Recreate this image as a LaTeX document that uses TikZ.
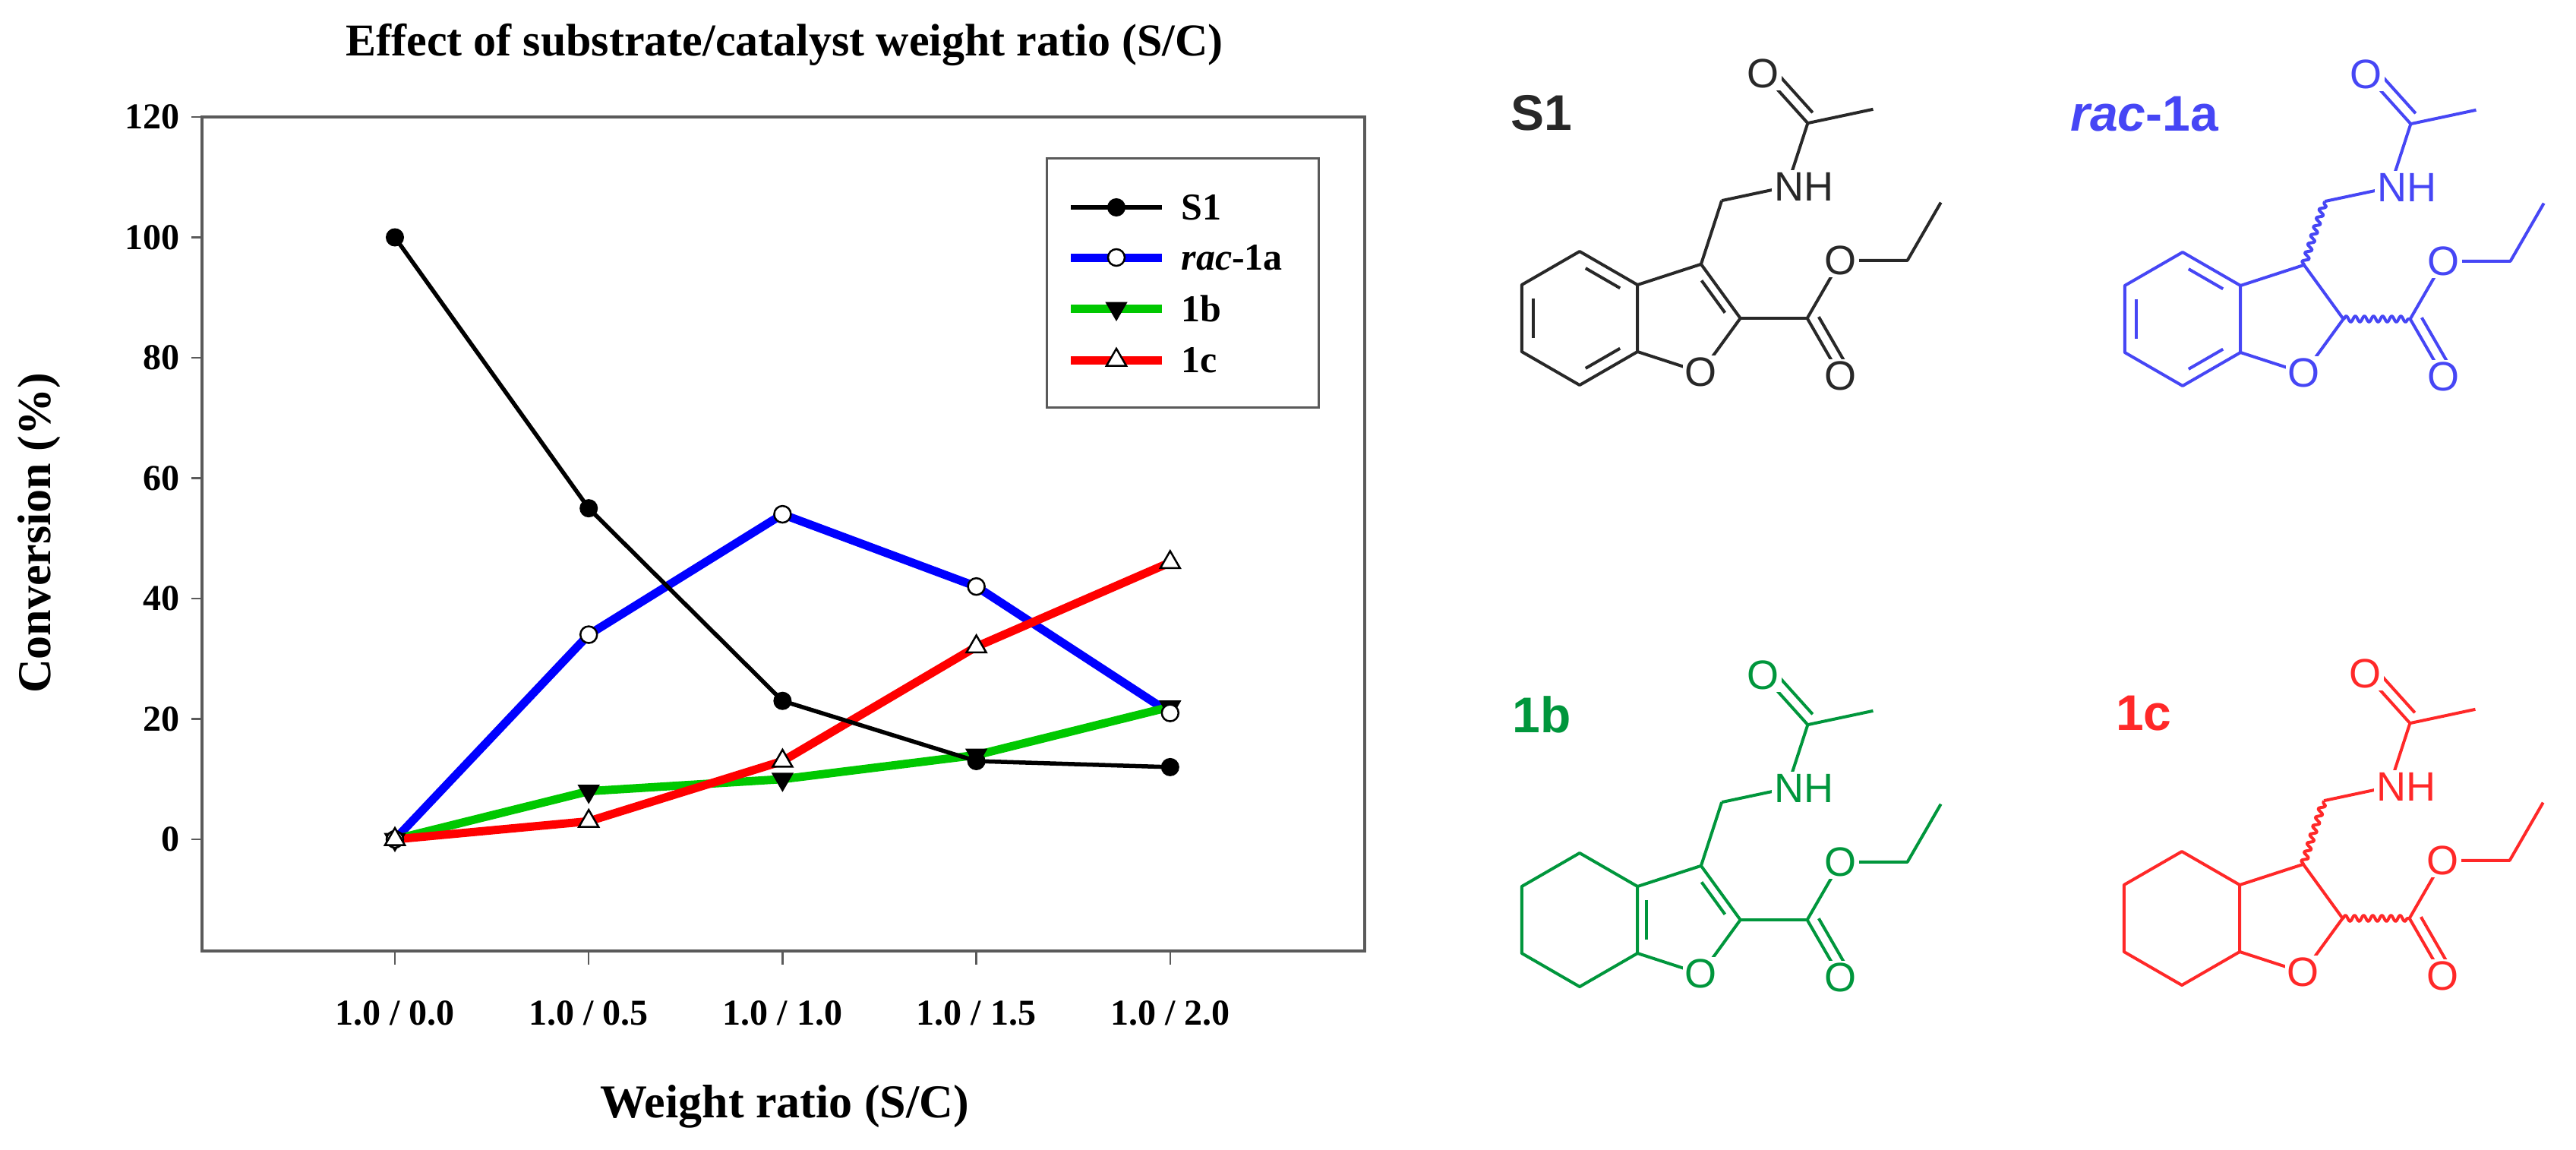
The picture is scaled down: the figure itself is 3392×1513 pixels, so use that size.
\documentclass[tikz,border=0pt]{standalone}
\usepackage{fontspec}
\setmainfont{Liberation Serif}
\newfontfamily\chemfont{Liberation Sans}
\usetikzlibrary{calc,shapes.geometric,decorations.pathmorphing}
\definecolor{axgray}{RGB}{90,90,90}
\definecolor{molblack}{RGB}{40,40,40}
\definecolor{molblue}{RGB}{70,70,245}
\definecolor{molgreen}{RGB}{0,150,60}
\definecolor{molred}{RGB}{255,40,40}
\definecolor{plotgreen}{RGB}{0,200,0}
\tikzset{
  axisline/.style={draw=axgray,line width=4pt},
  ticklab/.style={font=\bfseries\fontsize{48}{48}\selectfont},
  biglab/.style={font=\bfseries\fontsize{62}{62}\selectfont},
  legtext/.style={font=\bfseries\fontsize{50}{50}\selectfont,anchor=west},
  mfull/.style={circle,draw=black,fill=black,minimum size=22pt,inner sep=0pt,line width=2pt},
  mopen/.style={circle,draw=black,fill=white,minimum size=22pt,inner sep=0pt,line width=2.5pt},
  mtridown/.style={regular polygon,regular polygon sides=3,shape border rotate=180,draw=black,fill=black,minimum size=30pt,inner sep=0pt,line width=2pt},
  mtriup/.style={regular polygon,regular polygon sides=3,draw=black,fill=white,minimum size=30pt,inner sep=0pt,line width=2.5pt},
  atom/.style={font=\chemfont\fontsize{54}{54}\selectfont,fill=white,inner sep=3pt},
  cpdlab/.style={font=\chemfont\bfseries\fontsize{66}{66}\selectfont},
  wavy/.style={decorate,decoration={snake,amplitude=4pt,segment length=12pt}}
}
\newcommand\innerbond[3]{\draw[shorten <=9pt,shorten >=9pt] ($(#3)!0.8!(#1)$) -- ($(#3)!0.8!(#2)$);}
% #1 prefix, #2 x, #3 y, #4 colour, #5 label, #6 type (1 S1, 2 rac, 3 1b, 4 1c)
\newcommand\molec[6]{%
\begin{scope}[shift={(#2,#3)},x=88pt,y=88pt,draw=#4,text=#4,line width=4pt,line join=round]
\coordinate (#1B) at (0,0);
\coordinate (#1v1) at (0,1);
\coordinate (#1v2) at (0.866,0.5);
\coordinate (#1v3) at (0.866,-0.5);
\coordinate (#1v4) at (0,-1);
\coordinate (#1v5) at (-0.866,-0.5);
\coordinate (#1v6) at (-0.866,0.5);
\coordinate (#1P) at (1.554,0);
\coordinate (#1c3) at (1.817,0.809);
\coordinate (#1c2) at (2.405,0);
\coordinate (#1o1) at (1.817,-0.809);
\coordinate (#1ch) at (2.126,1.760);
\coordinate (#1n) at (3.104,1.968);
\coordinate (#1cam) at (3.413,2.919);
\coordinate (#1oam) at (2.744,3.662);
\coordinate (#1me) at (4.391,3.127);
\coordinate (#1ce) at (3.405,0);
\coordinate (#1od) at (3.905,-0.866);
\coordinate (#1oe) at (3.905,0.866);
\coordinate (#1et1) at (4.905,0.866);
\coordinate (#1et2) at (5.405,1.732);
\draw (#1v1)--(#1v2)--(#1v3)--(#1v4)--(#1v5)--(#1v6)--cycle;
\draw (#1v2)--(#1c3)--(#1c2)--(#1o1)--(#1v3);
\ifcase#6\or
  \innerbond{#1v1}{#1v2}{#1B}\innerbond{#1v5}{#1v6}{#1B}\innerbond{#1v3}{#1v4}{#1B}
  \innerbond{#1c3}{#1c2}{#1P}
  \draw (#1c3)--(#1ch); \draw (#1c2)--(#1ce);
\or
  \innerbond{#1v1}{#1v2}{#1B}\innerbond{#1v5}{#1v6}{#1B}\innerbond{#1v3}{#1v4}{#1B}
  \draw[wavy] (#1c3)--(#1ch); \draw[wavy] (#1c2)--(#1ce);
\or
  \innerbond{#1v2}{#1v3}{#1P}\innerbond{#1c3}{#1c2}{#1P}
  \draw (#1c3)--(#1ch); \draw (#1c2)--(#1ce);
\or
  \draw[wavy] (#1c3)--(#1ch); \draw[wavy] (#1c2)--(#1ce);
\fi
\draw (#1ch)--(#1n)--(#1cam)--(#1me);
\draw (#1cam)--(#1oam);
\draw[shorten <=6pt] ($(#1cam)!0.16!-90:(#1oam)$) -- ($(#1oam)!0.16!90:(#1cam)$);
\draw (#1ce)--(#1od);
\draw[shorten <=6pt] ($(#1ce)!0.16!90:(#1od)$) -- ($(#1od)!0.16!-90:(#1ce)$);
\draw (#1ce)--(#1oe)--(#1et1)--(#1et2);
\node[atom] (#1Olab) at (#1o1) {O};
\node[atom] (#1OAlab) at (#1oam) {O};
\node[atom] (#1ODlab) at (#1od) {O};
\node[atom] (#1OElab) at (#1oe) {O};
\node[atom,anchor=west,xshift=-22pt] (#1NHlab) at (#1n) {NH};
\node[cpdlab] (#1name) at (-0.57,3.07) {#5};
\end{scope}}
\begin{document}
\begin{tikzpicture}[x=1pt,y=-1pt]
\useasboundingbox[fill=white] (0,0) rectangle (3392,1513);
% ---------- plot ----------
\node[font=\bfseries\fontsize{60}{60}\selectfont] (title) at (1033,59) {Effect of substrate/catalyst weight ratio (S/C)};
\draw[axisline] (266,154) rectangle (1797,1252);
\foreach \v in {0,20,...,120}{
  \draw[axisline,line width=2.5pt] (252,{1105-7.925*\v}) -- (266,{1105-7.925*\v});
  \node[ticklab,anchor=east] (yt\v) at (240,{1105-7.925*\v}) {\v};
}
\foreach \i/\t in {0/{1.0 / 0.0},1/{1.0 / 0.5},2/{1.0 / 1.0},3/{1.0 / 1.5},4/{1.0 / 2.0}}{
  \draw[axisline,line width=2.5pt] ({520+255.2*\i},1252) -- ({520+255.2*\i},1270);
  \node[ticklab] (xt\i) at ({520+255.2*\i},1334) {\t};
}
\node[biglab] (xlab) at (1033,1457) {Weight ratio (S/C)};
\node[biglab,rotate=90] (ylab) at (52,702) {Conversion (\%)};
% data coordinates
\foreach \s/\a/\b/\c/\d/\e in {S/100/55/23/13/12,R/0/34/54/42/21,G/0/8/10/14/22,C/0/3/13/32/46}{
  \coordinate (\s0) at (520,{1105-7.925*\a});
  \coordinate (\s1) at (775.2,{1105-7.925*\b});
  \coordinate (\s2) at (1030.4,{1105-7.925*\c});
  \coordinate (\s3) at (1285.6,{1105-7.925*\d});
  \coordinate (\s4) at (1540.8,{1105-7.925*\e});
}
\draw[blue,line width=11pt,line join=round] (R0)--(R1)--(R2)--(R3)--(R4);
\draw[plotgreen,line width=11pt,line join=round] (G0)--(G1)--(G2)--(G3)--(G4);
\draw[red,line width=11pt,line join=round] (C0)--(C1)--(C2)--(C3)--(C4);
\draw[black,line width=5.5pt,line join=round] (S0)--(S1)--(S2)--(S3)--(S4);
\foreach \k in {0,...,4}{
  \node[mtridown] at (G\k) {};
  \node[mopen] at (R\k) {};
  \node[mtriup] at (C\k) {};
  \node[mfull] at (S\k) {};
}
% legend
\draw[draw=axgray,line width=3pt] (1378,208) rectangle (1736,536);
\coordinate (lS) at (1470,273); \coordinate (lR) at (1470,339);
\coordinate (lG) at (1470,406); \coordinate (lC) at (1470,474);
\draw[black,line width=5.5pt] ($(lS)+(-60,0)$) -- ($(lS)+(60,0)$);
\draw[blue,line width=11pt] ($(lR)+(-60,0)$) -- ($(lR)+(60,0)$);
\draw[plotgreen,line width=11pt] ($(lG)+(-60,0)$) -- ($(lG)+(60,0)$);
\draw[red,line width=11pt] ($(lC)+(-60,0)$) -- ($(lC)+(60,0)$);
\node[mfull] at (lS) {}; \node[mopen] at (lR) {};
\node[mtridown] at (lG) {}; \node[mtriup] at (lC) {};
\node[legtext] (tS) at (1552,273) {S1};
\node[legtext] (tR) at (1552,339) {\textit{rac}-1a};
\node[legtext] (tG) at (1552,406) {1b};
\node[legtext] (tC) at (1552,474) {1c};
% ---------- structures ----------
\molec{a}{2080}{419}{molblack}{S1}{1}
\molec{b}{2874}{420}{molblue}{\textit{rac}-1a}{2}
\molec{c}{2080}{1211}{molgreen}{1b}{3}
\molec{d}{2873}{1209}{molred}{1c}{4}
\end{tikzpicture}
\end{document}
